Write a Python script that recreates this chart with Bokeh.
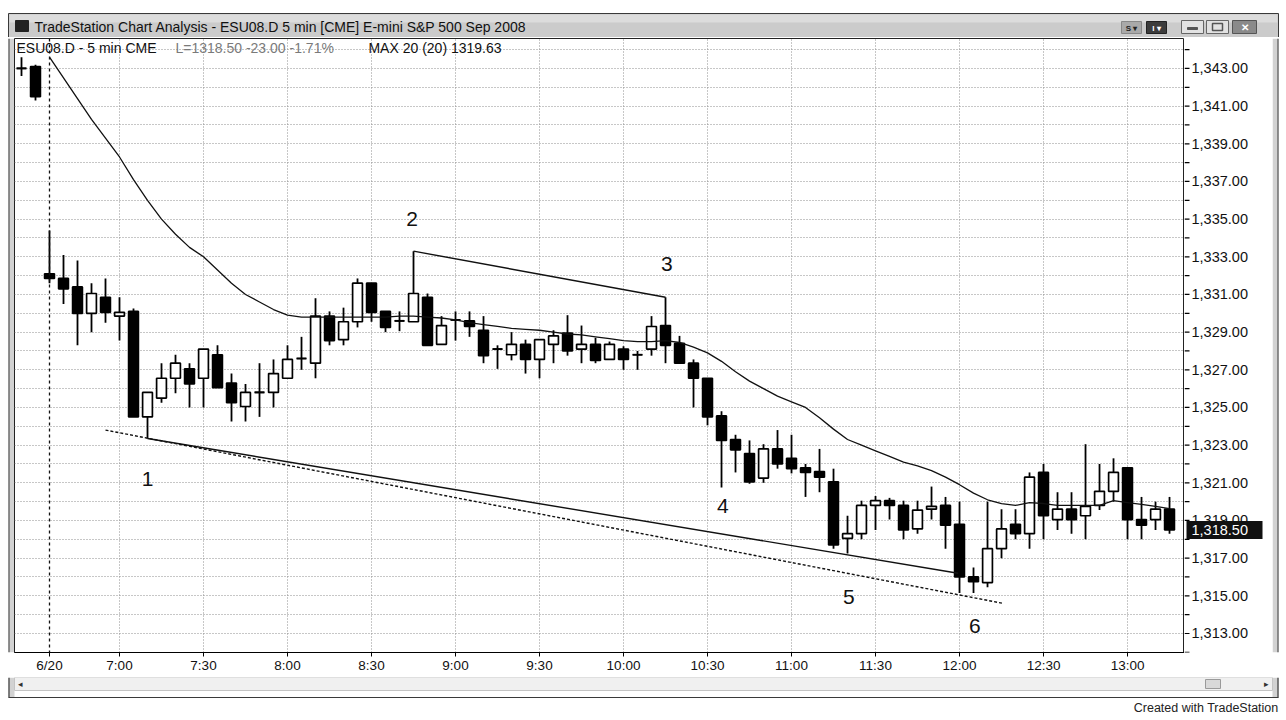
from bokeh.plotting import figure
from bokeh.models import ColumnDataSource, Range1d, FixedTicker, Label, Span
from bokeh.layouts import column, row
from bokeh.embed import file_html
from bokeh.resources import INLINE
from bokeh.core.properties import value

FONT = "Liberation Sans"

# ---------------- data ----------------
bar_index = list(range(-2, 81))
opens = [1343.0, 1343.1,
         1332.1, 1331.85, 1331.4, 1330.0, 1330.85, 1329.85, 1330.1, 1324.5, 1325.5, 1326.55,
         1327.05, 1326.55, 1327.8, 1326.3, 1325.05, 1325.8, 1325.8, 1326.55, 1327.6, 1327.35,
         1329.85, 1328.6, 1329.55, 1331.6, 1330.1, 1329.6, 1329.55, 1330.85, 1328.35, 1329.65,
         1329.6, 1329.1, 1328.1, 1327.8, 1328.35, 1327.55, 1328.35, 1328.95, 1328.1, 1328.35,
         1327.55, 1328.1, 1327.8, 1328.1, 1329.35, 1328.4, 1327.35, 1326.55, 1324.55, 1323.3,
         1322.55, 1321.25, 1322.8, 1322.3, 1321.8, 1321.6, 1321.05, 1318.05, 1318.3, 1319.8,
         1320.05, 1319.8, 1318.55, 1319.6, 1319.8, 1318.8, 1316.0, 1315.7, 1317.5, 1318.8,
         1318.3, 1321.55, 1319.05, 1319.6, 1319.25, 1319.8, 1320.55, 1321.8, 1319.05, 1319.05,
         1319.6]
highs = [1343.6, 1343.2,
         1334.4, 1333.1, 1332.8, 1331.6, 1331.85, 1330.85, 1330.25, 1325.8, 1327.35, 1327.8,
         1327.35, 1328.1, 1328.3, 1326.8, 1326.25, 1327.35, 1327.55, 1328.3, 1328.75, 1330.8,
         1330.1, 1330.3, 1331.85, 1331.6, 1330.1, 1330.1, 1333.3, 1331.05, 1329.85, 1330.1,
         1330.1, 1329.85, 1328.3, 1329.0, 1328.6, 1328.6, 1329.1, 1329.9, 1329.35, 1328.7,
         1328.5, 1328.25, 1328.0, 1329.85, 1330.85, 1328.8, 1327.55, 1326.55, 1324.8, 1323.55,
         1323.25, 1323.05, 1323.8, 1323.55, 1322.0, 1322.8, 1321.75, 1319.25, 1320.05, 1320.3,
         1320.2, 1320.05, 1320.05, 1320.8, 1320.25, 1320.0, 1316.5, 1320.0, 1319.6, 1319.6,
         1321.55, 1322.0, 1320.5, 1320.5, 1323.05, 1322.0, 1322.3, 1321.8, 1320.25, 1320.0,
         1320.25]
lows = [1342.6, 1341.3,
        1331.6, 1330.5, 1328.3, 1329.0, 1329.5, 1328.55, 1324.5, 1323.35, 1325.25, 1325.75,
        1325.0, 1325.0, 1326.05, 1324.25, 1324.25, 1324.5, 1325.0, 1326.55, 1327.0, 1326.55,
        1328.3, 1328.3, 1329.25, 1329.55, 1329.0, 1329.05, 1329.55, 1328.3, 1328.35, 1328.55,
        1328.75, 1327.35, 1327.05, 1327.5, 1326.8, 1326.55, 1327.35, 1327.75, 1327.35, 1327.35,
        1327.55, 1327.0, 1327.0, 1327.75, 1327.35, 1327.35, 1325.0, 1324.05, 1320.75, 1321.55,
        1320.95, 1321.0, 1321.75, 1321.5, 1320.25, 1320.5, 1317.5, 1317.25, 1318.0, 1318.5,
        1319.05, 1318.0, 1318.3, 1319.05, 1317.5, 1315.15, 1315.15, 1315.45, 1317.0, 1318.0,
        1317.5, 1318.0, 1318.5, 1318.3, 1318.0, 1319.55, 1320.0, 1318.0, 1318.0, 1318.5,
        1318.3]
closes = [1343.0, 1341.5,
          1331.85, 1331.3, 1330.0, 1331.05, 1330.05, 1330.05, 1324.5, 1325.8, 1326.55, 1327.35,
          1326.25, 1328.1, 1326.05, 1325.25, 1325.8, 1325.8, 1326.8, 1327.55, 1327.6, 1329.85,
          1328.55, 1329.55, 1331.6, 1330.05, 1329.25, 1329.6, 1331.05, 1328.3, 1329.35, 1329.65,
          1329.3, 1327.75, 1328.1, 1328.35, 1327.55, 1328.6, 1328.8, 1328.0, 1328.35, 1327.5,
          1328.35, 1327.55, 1327.8, 1329.3, 1328.3, 1327.35, 1326.55, 1324.5, 1323.25, 1322.75,
          1321.05, 1322.8, 1322.0, 1321.75, 1321.55, 1321.3, 1317.7, 1318.3, 1319.8, 1320.05,
          1319.8, 1318.5, 1319.55, 1319.75, 1318.75, 1316.0, 1315.75, 1317.5, 1318.55, 1318.3,
          1321.3, 1319.25, 1319.6, 1319.05, 1319.75, 1320.55, 1321.55, 1319.05, 1318.75, 1319.6,
          1318.5]

ma_index = list(range(0, 81))
ma_values = [1343.6, 1342.5, 1341.4, 1340.3, 1339.3, 1338.3, 1337.1, 1336.0, 1335.0, 1334.2,
             1333.5, 1333.0, 1332.3, 1331.6, 1331.0, 1330.6, 1330.2, 1329.9, 1329.8, 1329.8,
             1329.8, 1329.8, 1329.8, 1329.8, 1329.8, 1329.85, 1329.85, 1329.8, 1329.75, 1329.65,
             1329.5, 1329.4, 1329.3, 1329.2, 1329.15, 1329.1, 1329.0, 1328.9, 1328.85, 1328.75,
             1328.65, 1328.55, 1328.5, 1328.5, 1328.55, 1328.45, 1328.2, 1327.9, 1327.45, 1326.9,
             1326.4, 1326.0, 1325.6, 1325.3, 1325.0, 1324.45, 1323.85, 1323.3, 1323.0, 1322.7,
             1322.4, 1322.1, 1321.9, 1321.65, 1321.3, 1320.9, 1320.45, 1320.1, 1319.9, 1319.8,
             1319.95, 1319.9, 1319.8, 1319.8, 1319.8, 1319.8, 1320.05, 1319.95, 1319.85, 1319.75,
             1319.63]

time_ticks = [0, 5, 11, 17, 23, 29, 35, 41, 47, 53, 59, 65, 71, 77]
time_labels = ["6/20", "7:00", "7:30", "8:00", "8:30", "9:00", "9:30", "10:00",
               "10:30", "11:00", "11:30", "12:00", "12:30", "13:00"]
session_start = 0
price_ticks = list(range(1313, 1344, 2))
price_grid = list(range(1312, 1345))

swing_labels = ["1", "2", "3", "4", "5", "6"]
swing_x = [7.0, 25.9, 44.1, 48.1, 57.1, 66.1]
swing_y = [1321.2, 1335.0, 1332.6, 1319.75, 1314.95, 1313.4]

trend_x = [7.0, 64.9]
trend_y = [1323.35, 1316.2]
channel_x = [4.0, 68.1]
channel_y = [1323.8, 1314.6]
wedge_x = [26.0, 44.0]
wedge_y = [1333.3, 1330.85]

last_price = 1318.50
title_text = "TradeStation Chart Analysis - ESU08.D 5 min [CME] E-mini S&P 500 Sep 2008"
legend_sym = "ESU08.D - 5 min CME"
legend_last = "L=1318.50  -23.00  -1.71%"
legend_ma = "MAX 20 (20) 1319.63"

# ---------------- geometry ----------------
W = 1286
MAIN_H = 640
CHROME = "#d2d2d2"
EDGE = "#3a3a3a"


def chrome_fig(w, h, y_range=None, top=0, bottom=0):
    f = figure(width=w, height=h, x_range=Range1d(0, w),
               y_range=y_range if y_range is not None else Range1d(h, 0),
               x_axis_type=None, y_axis_type=None, min_border=0,
               min_border_top=top, min_border_bottom=bottom,
               toolbar_location=None, output_backend="svg")
    f.grid.visible = False
    f.outline_line_color = None
    f.background_fill_color = "white"
    f.border_fill_color = "white"
    return f


# ---------------- title bar ----------------
tb = chrome_fig(W, 37)
tb.quad(left=[8], right=[1278], top=[13], bottom=[37], fill_color="#cbcbcb", line_color=EDGE, line_width=1)
tb.quad(left=[9], right=[1277], top=[14], bottom=[22], fill_color="#dcdcdc", line_color=None)
tb.quad(left=[15], right=[28], top=[20], bottom=[31], fill_color="#222222", line_color="#222222")
tb.text(x=[34], y=[26.5], text=[title_text], text_font=value(FONT), text_font_size="14px",
        text_baseline="middle", text_color="#111111")
tb.quad(left=[1121], right=[1141], top=[21], bottom=[33], fill_color="#a9a9a9", line_color="#888888")
tb.text(x=[1131], y=[27.5], text=["S ▾"], text_font=value(FONT), text_font_size="8px",
        text_align="center", text_baseline="middle", text_color="#222222", text_font_style="bold")
tb.quad(left=[1146], right=[1166], top=[21], bottom=[33], fill_color="#3c3c3c", line_color="#222222")
tb.text(x=[1156], y=[27.5], text=["I ▾"], text_font=value(FONT), text_font_size="8px",
        text_align="center", text_baseline="middle", text_color="white", text_font_style="bold")
tb.quad(left=[1181, 1206], right=[1203, 1228], top=[20, 20], bottom=[33, 33],
        fill_color="#e2e2e2", line_color="#666666")
tb.quad(left=[1232], right=[1256], top=[20], bottom=[33], fill_color="#8a8a8a", line_color="#555555")
tb.quad(left=[1187], right=[1197], top=[27], bottom=[29], fill_color="#555555", line_color="#555555")
tb.quad(left=[1212], right=[1222], top=[23], bottom=[30], fill_color=None, line_color="#555555", line_width=1.5)
tb.text(x=[1244], y=[26.5], text=["✕"], text_font=value(FONT), text_font_size="10px",
        text_align="center", text_baseline="middle", text_color="white", text_font_style="bold")

# ---------------- side strips (window edges) ----------------
left_strip = chrome_fig(14, MAIN_H)
left_strip.quad(left=[8], right=[14], top=[0], bottom=[MAIN_H], fill_color=CHROME, line_color=None)
left_strip.segment(x0=[8.5], y0=[0], x1=[8.5], y1=[MAIN_H], line_color=EDGE, line_width=1)

right_strip = chrome_fig(14, MAIN_H)
right_strip.quad(left=[0], right=[6], top=[0], bottom=[MAIN_H], fill_color=CHROME, line_color=None)
right_strip.segment(x0=[5.5], y0=[0], x1=[5.5], y1=[MAIN_H], line_color=EDGE, line_width=1)

# ---------------- main chart ----------------
y_rng = Range1d(1311.99, 1344.59)
p = figure(width=1170, height=MAIN_H, x_range=Range1d(-2.5, 81.07), y_range=y_rng,
           y_axis_location=None, toolbar_location=None, output_backend="svg",
           min_border_left=0, min_border_right=0, min_border_top=1, min_border_bottom=25)
p.background_fill_color = "white"
p.border_fill_color = "white"
p.outline_line_color = "#222222"
p.outline_line_width = 1

p.xaxis.ticker = FixedTicker(ticks=time_ticks)
p.xaxis.major_label_overrides = {t: s for t, s in zip(time_ticks, time_labels)}
p.xaxis.minor_tick_line_color = None
p.xaxis.major_tick_in = 0
p.xaxis.major_tick_out = 4
p.xaxis.major_label_standoff = 1
p.xaxis.major_label_text_font = FONT
p.xaxis.major_label_text_font_size = "13.5px"
p.xaxis.major_label_text_color = "#111111"
p.xaxis.axis_line_color = "black"
p.xaxis.axis_line_width = 1.2

p.ygrid.ticker = FixedTicker(ticks=price_grid)
p.xgrid.ticker = FixedTicker(ticks=time_ticks[1:])
p.grid.grid_line_color = "#8f8f8f"
p.grid.grid_line_dash = "1 2"
p.grid.grid_line_width = 1

p.add_layout(Span(location=session_start, dimension="height", line_color="#111111",
                  line_dash="3 3", line_width=1.3))

# candles
bodies_top = [max(o, c) for o, c in zip(opens, closes)]
bodies_bot = [min(o, c) for o, c in zip(opens, closes)]
fills = ["white" if c >= o else "black" for o, c in zip(opens, closes)]
src = ColumnDataSource(dict(x=bar_index, h=highs, l=lows, top=bodies_top, bottom=bodies_bot, fill=fills))
p.segment(x0="x", y0="h", x1="x", y1="l", source=src, line_color="black", line_width=1.8)
p.vbar(x="x", width=0.7, top="top", bottom="bottom", fill_color="fill", line_color="black",
       line_width=1.7, source=src)
doji_x = [x for x, o, c in zip(bar_index, opens, closes) if o == c]
doji_y = [c for o, c in zip(opens, closes) if o == c]
p.segment(x0=[x - 0.35 for x in doji_x], y0=doji_y, x1=[x + 0.35 for x in doji_x], y1=doji_y,
          line_color="black", line_width=1.8)

# moving average and drawn lines
p.line(ma_index, ma_values, line_color="#111111", line_width=1.3)
p.line(trend_x, trend_y, line_color="#111111", line_width=1.4)
p.line(channel_x, channel_y, line_color="#111111", line_width=1.4, line_dash="3 2")
p.line(wedge_x, wedge_y, line_color="#111111", line_width=1.4)

# swing numbers
for t, x, y in zip(swing_labels, swing_x, swing_y):
    p.add_layout(Label(x=x, y=y, text=t, text_font=FONT, text_font_size="21px",
                       text_align="center", text_baseline="middle", text_color="#111111"))

# status line
leg_x = -2.36
leg_y = 1344.1
p.add_layout(Label(x=leg_x, y=leg_y, text=legend_sym, text_font=FONT, text_font_size="14px",
                   text_baseline="middle", text_color="#111111"))
p.add_layout(Label(x=leg_x, y=leg_y, x_offset=159, text=legend_last, text_font=FONT,
                   text_font_size="14px", text_baseline="middle", text_color="#7a7a7a"))
p.add_layout(Label(x=leg_x, y=leg_y, x_offset=352, text=legend_ma, text_font=FONT,
                   text_font_size="14px", text_baseline="middle", text_color="#111111"))

# ---------------- price scale (right), sharing the chart's y range ----------------
ps = chrome_fig(88, MAIN_H, y_range=y_rng, top=1, bottom=25)
ps.segment(x0=[0] * len(price_grid), y0=price_grid, x1=[5] * len(price_grid), y1=price_grid,
           line_color="black", line_width=1.2)
price_labels = [f"{v:,.2f}" for v in price_ticks]
ps.text(x=[7] * len(price_ticks), y=price_ticks, text=price_labels, text_font=value(FONT),
        text_font_size="14.5px", text_baseline="middle", text_color="#111111")
ps.rect(x=[40], y=[last_price], width=[76], height=[18], height_units="screen",
        fill_color="#111111", line_color=None)
ps.text(x=[7], y=[last_price], text=[f"{last_price:,.2f}"], text_font=value(FONT),
        text_font_size="14.5px", text_baseline="middle", text_color="white")

# ---------------- footer: scrollbar + frame bottom + credit ----------------
ft = chrome_fig(W, 39)
ft.quad(left=[8, 1272], right=[14, 1278], top=[0, 0], bottom=[20, 20], fill_color=CHROME, line_color=None)
ft.quad(left=[14], right=[1272], top=[0], bottom=[13], fill_color="#f0f0f0", line_color="#c4c4c4")
ft.quad(left=[1205], right=[1220], top=[2], bottom=[11], fill_color="#d9d9d9", line_color="#9a9a9a")
ft.text(x=[20, 1266], y=[6.5, 6.5], text=["◂", "▸"], text_font=value(FONT), text_font_size="9px",
        text_align="center", text_baseline="middle", text_color="#333333")
ft.segment(x0=[8.5, 1277.5, 8], y0=[0, 0, 20], x1=[8.5, 1277.5, 1278], y1=[20, 20, 20],
           line_color=EDGE, line_width=1.2)
ft.text(x=[1278], y=[30], text=["Created with TradeStation"], text_font=value(FONT),
        text_font_size="12.5px", text_align="right", text_baseline="middle", text_color="#222222")

layout = column(tb, row(left_strip, p, ps, right_strip), ft)
open("out.html", "w").write(file_html(layout, INLINE))
